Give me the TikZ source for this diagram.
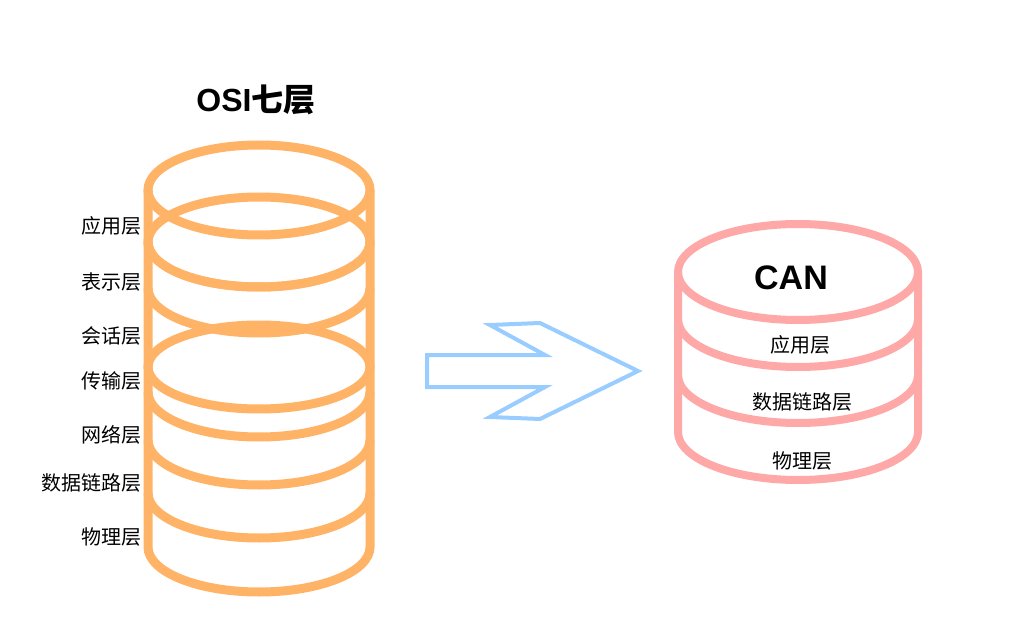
\documentclass[tikz,border=0pt]{standalone}
\usepackage{fontspec}
\setmainfont{Liberation Sans}
\newfontfamily\cjk{Noto Sans CJK SC}
\definecolor{osi}{HTML}{FFB366}
\definecolor{canc}{HTML}{FFA8A8}
\definecolor{arr}{HTML}{99CCFF}
\begin{document}
\begin{tikzpicture}[x=1pt,y=-1pt,
  osiline/.style={draw=osi,line width=9pt},
  canline/.style={draw=canc,line width=8pt},
  lbl/.style={font=\cjk\fontsize{20}{20}\selectfont,inner sep=0pt},
  lblr/.style={lbl,anchor=east}]
\useasboundingbox (0,0) rectangle (1033,628);
% OSI stack
\draw[osiline] (148,190) -- (148,547) arc[start angle=180,end angle=0,x radius=111,y radius=45] -- (370,190);
\draw[osiline] (259,190) ellipse[x radius=111,y radius=45];
\draw[osiline] (259,242) ellipse[x radius=111,y radius=45];
\draw[osiline] (259,367) ellipse[x radius=111,y radius=42];
\foreach \b in {287,333,437,485,538}
  \draw[osiline] (148,\b-45) arc[start angle=180,end angle=0,x radius=111,y radius=45];
\node[font=\bfseries\fontsize{32}{32}\selectfont] (t1) at (256,100) {OSI{\cjk\bfseries 七层}};
\node[lblr] (l1) at (142,226) {应用层};
\node[lblr] (l2) at (142,282) {表示层};
\node[lblr] (l3) at (142,336) {会话层};
\node[lblr] (l4) at (142,381) {传输层};
\node[lblr] (l5) at (142,435) {网络层};
\node[lblr] (l6) at (142,483) {数据链路层};
\node[lblr] (l7) at (142,537) {物理层};
% arrow
\draw[arr,line width=4pt,line join=miter] (427,355) -- (545,355) -- (490,325) -- (540,323) -- (638,371) -- (540,419) -- (490,417) -- (545,387) -- (427,387) -- cycle;
% CAN stack
\draw[canline] (678,272) -- (678,432) arc[start angle=180,end angle=0,x radius=120,y radius=48] -- (918,272);
\draw[canline] (798,272) ellipse[x radius=120,y radius=48];
\foreach \b in {367,423}
  \draw[canline] (678,\b-48) arc[start angle=180,end angle=0,x radius=120,y radius=48];
\node[font=\bfseries\fontsize{34}{34}\selectfont] (c0) at (791,278) {CAN};
\node[lbl] (c1) at (800,345) {应用层};
\node[lbl] (c2) at (802,402) {数据链路层};
\node[lbl] (c3) at (802,461) {物理层};
\end{tikzpicture}
\end{document}
